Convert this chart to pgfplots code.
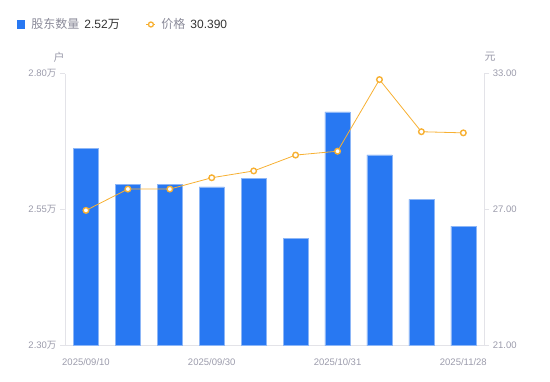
\documentclass[border=0pt]{standalone}
\usepackage{pgfplots}
\pgfplotsset{compat=1.18}
\usepackage{fontspec}
\setmainfont{Liberation Sans}
\newfontfamily\cjk{Noto Sans CJK SC}
\definecolor{barblue}{HTML}{2878F2}
\definecolor{baredge}{HTML}{8CB6F7}
\definecolor{lineorange}{HTML}{F7B032}
\definecolor{axisgray}{HTML}{E3E3E8}
\definecolor{ticktext}{HTML}{9B9BAB}
\definecolor{legtext}{HTML}{8A8A99}
\definecolor{valtext}{HTML}{333333}
\begin{document}
\begin{tikzpicture}
\path[use as bounding box] (0,0) rectangle (550pt,381pt);
\pgfplotsset{
  base/.style={
    at={(65pt,35.3pt)}, anchor=south west, scale only axis,
    width=419.3pt, height=272pt,
    xmin=-0.5, xmax=9.5,
    tick label style={font=\fontsize{9.5}{11}\selectfont, text=ticktext},
    /pgf/number format/assume math mode=true,
    tick align=outside, major tick length=5pt,
    axis line style={axisgray, line width=0.8pt, -},
    ytick style={axisgray, line width=0.8pt},
    xtick style={draw=none},
  }
}
\begin{axis}[base,
  ymin=2.3, ymax=2.8,
  axis x line*=bottom, axis y line*=left,
  xtick={0,3,6,9},
  xticklabels={2025/09/10,2025/09/30,2025/10/31,2025/11/28},
  xticklabel style={yshift=-4pt},
  ytick={2.3,2.55,2.8},
  yticklabels={2.30{\cjk 万},2.55{\cjk 万},2.80{\cjk 万}},
  ybar, bar width=0.6,
]
\addplot[fill=barblue, draw=baredge, line width=0.5pt] coordinates {
  (0,2.663) (1,2.596) (2,2.596) (3,2.592) (4,2.608)
  (5,2.497) (6,2.730) (7,2.651) (8,2.569) (9,2.520)
};
\end{axis}
\begin{axis}[base,
  ymin=21, ymax=33,
  axis x line=none, axis y line*=right,
  xtick=\empty,
  ytick={21,27,33},
  yticklabels={21.00,27.00,33.00},
  legend columns=-1,
  legend style={draw=none, fill=none, at={(axis description cs:-0.1152,1.1809)}, anchor=west,
    font=\cjk\fontsize{12}{14}\selectfont, text=legtext, inner sep=0pt,
    /tikz/every even column/.append style={column sep=24pt}},
]
\addlegendimage{legend image code/.code={\fill[barblue, draw=none] (0pt,-4.3pt) rectangle (8.6pt,4.3pt);
    \node[inner sep=0pt, outer sep=0pt, draw=none] at (12pt,0pt) {};}}
\addlegendentry{股东数量\hspace{5pt}\textcolor{valtext}{\fontspec{Liberation Sans}2.52}\textcolor{valtext}{万}}
\addplot[lineorange, line width=0.8pt, mark=*, mark size=2.8pt,
  mark options={fill=white, draw=lineorange, line width=1.4pt},
  legend image code/.code={\draw[lineorange, line width=1.4pt] (0pt,0pt) -- (9pt,0pt);
    \draw[lineorange, line width=1.3pt, fill=white] (4.5pt,0pt) circle (2.5pt);
    \node[inner sep=0pt, outer sep=0pt, draw=none] at (12.5pt,0pt) {};}]
coordinates {
  (0,26.97) (1,27.91) (2,27.91) (3,28.41) (4,28.71)
  (5,29.41) (6,29.58) (7,32.74) (8,30.44) (9,30.39)
};
\addlegendentry{价格\hspace{5pt}\textcolor{valtext}{\fontspec{Liberation Sans}30.390}}
\end{axis}
\node[font=\cjk\fontsize{11}{13}\selectfont, text=ticktext] at (59pt,324pt) {户};
\node[font=\cjk\fontsize{11}{13}\selectfont, text=ticktext] at (490pt,324pt) {元};
\end{tikzpicture}
\end{document}
